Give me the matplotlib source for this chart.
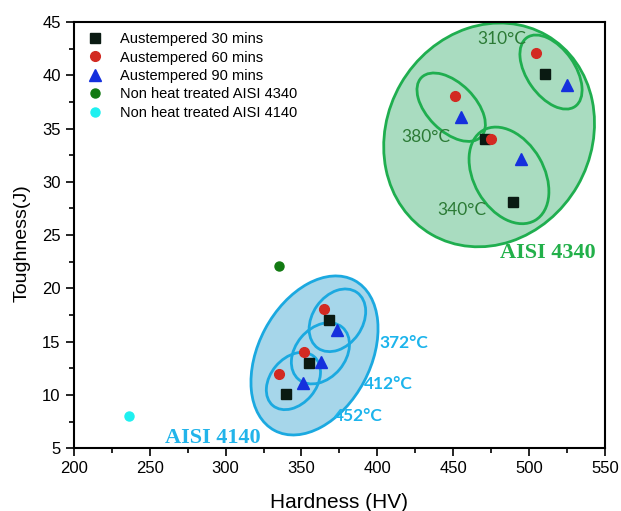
import matplotlib
matplotlib.use('Agg')
import matplotlib.pyplot as plt
from matplotlib.patches import Ellipse
from matplotlib.transforms import ScaledTranslation
from matplotlib.ticker import MultipleLocator

# hardness (HV) / toughness (J)
# AISI 4340 groups: 310, 380, 340 C ; AISI 4140 groups: 372, 412, 452 C
hv_30 = [510.5, 471, 489.5, 368, 355, 340]
tj_30 = [40.1, 34.0, 28.1, 17.0, 13.0, 10.1]
hv_60 = [504.6, 451, 475, 365, 352, 335]
tj_60 = [42.1, 38.05, 34.0, 18.05, 14.0, 12.0]
hv_90 = [525, 455, 495, 373.7, 363, 350.7]
tj_90 = [39.1, 36.1, 32.1, 16.1, 13.1, 11.1]
hv_raw_4340, tj_raw_4340 = [335.5], [22.1]
hv_raw_4140, tj_raw_4140 = [236], [8.0]

# group ellipses: centre (data), width/height (px), angle
ell_4340 = [(473.7, 34.4, 230, 204, 60),
            (514.5, 40.3, 84, 48, -55),
            (448.7, 37.0, 84, 48, -45),
            (486.8, 30.6, 104, 70, -60)]
ell_4140 = [(358.6, 13.7, 170, 112, 62),
            (373.7, 17.0, 68, 50, 55),
            (362.5, 13.9, 68, 50, 50),
            (344.7, 11.3, 64, 46, 50)]

temps_4340 = ['310°C', '380°C', '340°C']
temps_4340_xy = [(482, 43.4), (432, 34.2), (456, 27.35)]
temps_4140 = ['372°C', '412°C', '452°C']
temps_4140_xy = [(417.5, 14.9), (407.5, 11.0), (387.5, 8.0)]

plt.rcParams['font.family'] = ['Liberation Sans', 'DejaVu Sans']

fig = plt.figure(figsize=(6.21, 5.11), dpi=100)
ax = fig.add_axes([0.119, 0.123, 0.855, 0.834])


def add_ellipse(cx, cy, w, h, ang, face, edge, big):
    tr = fig.dpi_scale_trans + ScaledTranslation(cx, cy, ax.transData)
    if big:
        e = Ellipse((0, 0), w / 100, h / 100, angle=ang, transform=tr,
                    facecolor=face, edgecolor=edge, lw=2.0, zorder=1)
    else:
        e = Ellipse((0, 0), w / 100, h / 100, angle=ang, transform=tr,
                    facecolor='none', edgecolor=edge, lw=2.0, zorder=2)
    ax.add_patch(e)


for i, (cx, cy, w, h, ang) in enumerate(ell_4340):
    add_ellipse(cx, cy, w, h, ang, '#a9dcc0', '#1fae4f', i == 0)
for i, (cx, cy, w, h, ang) in enumerate(ell_4140):
    add_ellipse(cx, cy, w, h, ang, '#a6d6ea', '#1ba9e0', i == 0)

ax.plot(hv_30, tj_30, 's', color='#0a1a12', ms=6.5, ls='none', zorder=5, label='Austempered 30 mins')
ax.plot(hv_60, tj_60, 'o', color='#d22a22', ms=7, ls='none', zorder=5, label='Austempered 60 mins')
ax.plot(hv_90, tj_90, '^', color='#1530dd', ms=8.5, ls='none', zorder=5, label='Austempered 90 mins')
ax.plot(hv_raw_4340, tj_raw_4340, 'o', color='#127a12', ms=6.5, ls='none', zorder=5,
        label='Non heat treated AISI 4340')
ax.plot(hv_raw_4140, tj_raw_4140, 'o', color='#1ef0f0', ms=6.5, ls='none', zorder=5,
        label='Non heat treated AISI 4140')

for t, (x, y) in zip(temps_4340, temps_4340_xy):
    ax.text(x, y, t, color='#2b7a35', fontsize=12.5, ha='center', va='center',
            family=['Lato', 'DejaVu Sans'], zorder=6)
for t, (x, y) in zip(temps_4140, temps_4140_xy):
    ax.text(x, y, t, color='#1cb4ec', fontsize=12.5, ha='center', va='center', weight='bold',
            family=['Lato', 'DejaVu Sans'], zorder=6)
ax.text(512.5, 23.3, 'AISI 4340', color='#22b04a', fontsize=16, weight='bold',
        ha='center', va='center', family=['Liberation Serif'], zorder=6)
ax.text(291.5, 5.94, 'AISI 4140', color='#22b4ea', fontsize=16, weight='bold',
        ha='center', va='center', family=['Liberation Serif'], zorder=6)

ax.set_xlim(200, 550)
ax.set_ylim(5, 45)
ax.xaxis.set_major_locator(MultipleLocator(50))
ax.xaxis.set_minor_locator(MultipleLocator(25))
ax.yaxis.set_major_locator(MultipleLocator(5))
ax.yaxis.set_minor_locator(MultipleLocator(2.5))
ax.tick_params(which='major', direction='out', length=6, width=1.2, labelsize=12)
ax.tick_params(which='minor', direction='out', length=3.5, width=1.2)
for s in ax.spines.values():
    s.set_linewidth(1.5)

ax.set_xlabel('Hardness (HV)', fontsize=15, labelpad=12)
ax.set_ylabel('Toughness(J)', fontsize=14)
ax.yaxis.set_label_coords(-0.082, 0.481)

ax.legend(loc='upper left', bbox_to_anchor=(0.004, 1), frameon=False, fontsize=10.5,
          handletextpad=1.1, labelspacing=0.3, borderaxespad=0.3, handlelength=1.2)

plt.savefig('out.png', dpi=100)
